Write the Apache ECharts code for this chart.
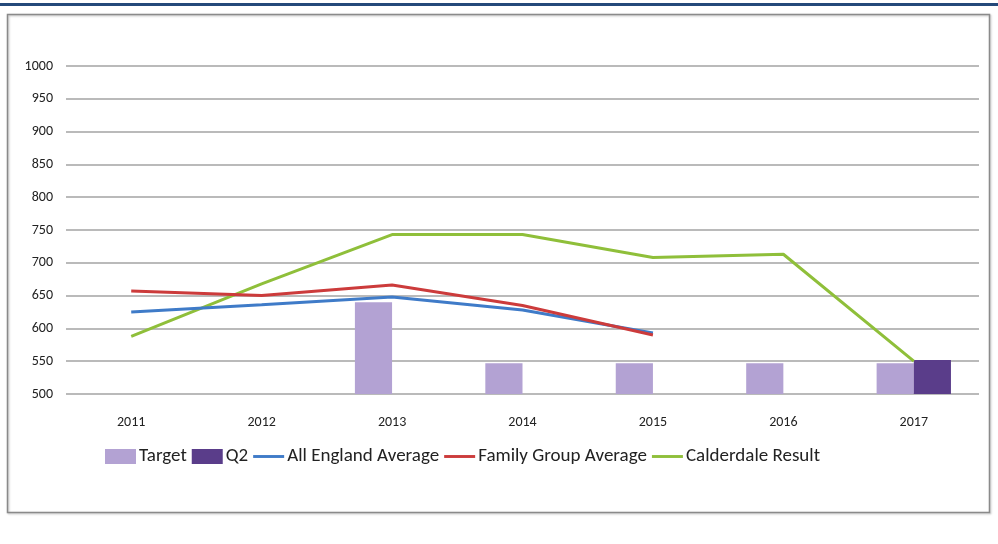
<!DOCTYPE html>
<html>
<head>
<meta charset="utf-8">
<script src="https://cdn.jsdelivr.net/npm/echarts@6/dist/echarts.min.js"></script>
<style>
  html, body { margin: 0; padding: 0; background: #fff; }
  #chart { width: 998px; height: 544px; }
</style>
</head>
<body>
<div id="chart"></div>
<script>
// Years on the category axis
const years = ['2011', '2012', '2013', '2014', '2015', '2016', '2017'];

// Bar series
const target = [null, null, 640, 547, 547, 547, 547];
const q2 = [null, null, null, null, null, null, 552];

// Line series
const allEngland = [625, 636, 648, 628, 593, null, null];
const familyGroup = [657, 650, 666, 635, 590, null, null];
const calderdale = [588, 668, 743, 743, 708, 713, 550];

// Value axis range
const yMin = 500, yMax = 1000, yStep = 50;

const font = "Carlito, 'Liberation Sans Narrow', Lato, sans-serif";
const lineIcon = 'path://M0,0 L32,0 L32,3 L0,3 Z';

const chart = echarts.init(document.getElementById('chart'), null, { renderer: 'canvas' });

chart.setOption({
  backgroundColor: '#ffffff',
  animation: false,
  textStyle: { fontFamily: font },
  graphic: [
    { type: 'rect', shape: { x: 0, y: 3, width: 998, height: 3 }, style: { fill: '#24497a' }, silent: true },
    { type: 'rect', shape: { x: 7.5, y: 14.5, width: 982, height: 498 },
      style: { fill: 'none', stroke: '#8a8a8a', lineWidth: 1.5,
               shadowColor: 'rgba(0,0,0,0.25)', shadowBlur: 2, shadowOffsetX: 1, shadowOffsetY: 1 },
      silent: true, z: -1 }
  ],
  legend: {
    bottom: 73,
    left: 100,
    itemWidth: 31,
    itemHeight: 15,
    itemGap: 5,
    textStyle: { fontSize: 19, color: '#222', fontFamily: font, padding: [0, 0, 0, -2] },
    data: [
      { name: 'Target', icon: 'rect' },
      { name: 'Q2', icon: 'rect' },
      { name: 'All England Average', icon: lineIcon },
      { name: 'Family Group Average', icon: lineIcon },
      { name: 'Calderdale Result', icon: lineIcon }
    ]
  },
  grid: { left: 66, right: 19, top: 66, bottom: 150, containLabel: false },
  xAxis: {
    type: 'category',
    data: years,
    boundaryGap: true,
    axisLine: { show: false },
    axisTick: { show: false },
    axisLabel: { color: '#222', fontSize: 14, margin: 21, fontFamily: font }
  },
  yAxis: {
    type: 'value',
    min: yMin,
    max: yMax,
    interval: yStep,
    axisLine: { show: false },
    axisTick: { show: false },
    axisLabel: { color: '#222', fontSize: 14, margin: 13, fontFamily: font,
                 formatter: v => String(v) },
    splitLine: { lineStyle: { color: '#a3a3a3', width: 1.5 } }
  },
  series: [
    { name: 'Target', type: 'bar', data: target, barGap: '0%', barCategoryGap: '43%',
      itemStyle: { color: '#b3a2d3' }, z: 1 },
    { name: 'Q2', type: 'bar', data: q2, itemStyle: { color: '#5a3d8a' }, z: 1 },
    { name: 'All England Average', type: 'line', data: allEngland, symbol: 'none',
      lineStyle: { color: '#3f7bc8', width: 3 }, itemStyle: { color: '#3f7bc8' }, z: 3 },
    { name: 'Family Group Average', type: 'line', data: familyGroup, symbol: 'none',
      lineStyle: { color: '#cc3b3b', width: 3 }, itemStyle: { color: '#cc3b3b' }, z: 4 },
    { name: 'Calderdale Result', type: 'line', data: calderdale, symbol: 'none',
      lineStyle: { color: '#8fbf3a', width: 3 }, itemStyle: { color: '#8fbf3a' }, z: 2 }
  ]
});
</script>
</body>
</html>
